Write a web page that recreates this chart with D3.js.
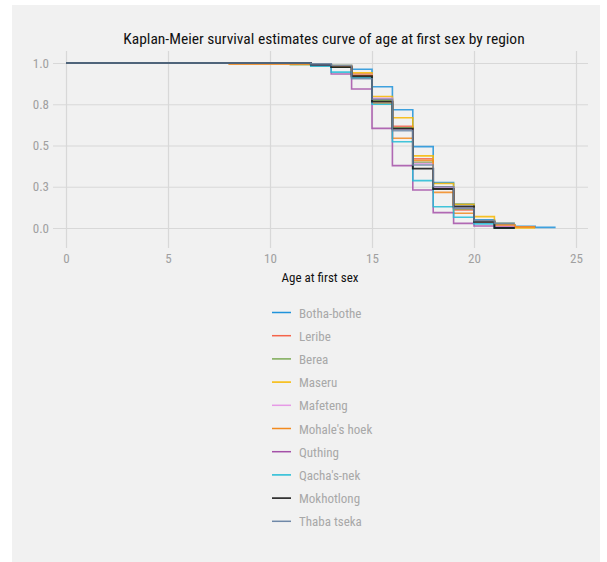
<!DOCTYPE html>
<html>
<head>
<meta charset="utf-8">
<script src="https://cdn.jsdelivr.net/npm/d3@7"></script>
<style>
  html, body { margin: 0; padding: 0; background: #ffffff; }
  svg { display: block; }
  text { font-family: "Liberation Sans Narrow", "Roboto Condensed", "Arial Narrow", "Liberation Sans", sans-serif; }
</style>
</head>
<body>
<svg id="chart" width="607" height="562"></svg>
<script>
// Kaplan-Meier survival estimates by region (step at each age)
const ages = [0, 8, 9, 10, 11, 12, 13, 14, 15, 16, 17, 18, 19, 20, 21, 22, 23, 24];

const regions = ["Botha-bothe", "Leribe", "Berea", "Maseru", "Mafeteng",
                 "Mohale's hoek", "Quthing", "Qacha's-nek", "Mokhotlong", "Thaba tseka"];

const colors = ["#1f93db", "#f5644a", "#7caa55", "#f7b900", "#e69ae6",
                "#f28a1e", "#a450a8", "#22bcd6", "#111111", "#6f88a8"];

// survival per age; null once the region has no further follow-up
const bothaBothe   = [1, 1, 1, 1, 1, 0.99, 0.985, 0.962, 0.856, 0.717, 0.493, 0.275, 0.145, 0.05, 0.02, 0.01, 0.004, 0.004];
const leribe       = [1, 1, 1, 1, 1, 0.99, 0.98, 0.935, 0.78, 0.616, 0.42, 0.25, 0.11, 0.04, 0.015, 0.005, 0.005, null];
const berea        = [1, 1, 1, 1, 0.99, 0.985, 0.975, 0.93, 0.772, 0.608, 0.398, 0.24, 0.115, 0.035, 0.028, 0.028, null, null];
const maseru       = [1, 1, 1, 1, 1, 0.99, 0.985, 0.94, 0.797, 0.668, 0.437, 0.27, 0.144, 0.069, 0.012, 0.0, 0.0, null];
const mafeteng     = [1, 1, 1, 1, 1, 0.99, 0.98, 0.93, 0.786, 0.6, 0.39, 0.245, 0.12, 0.03, 0.01, 0.01, null, null];
const mohalesHoek  = [1, 0.992, 0.992, 0.992, 0.992, 0.985, 0.98, 0.925, 0.756, 0.544, 0.41, 0.216, 0.089, 0.04, 0.02, 0.008, 0.008, null];
const quthing      = [1, 1, 1, 1, 1, 0.985, 0.933, 0.842, 0.604, 0.378, 0.23, 0.093, 0.028, 0.012, 0.005, 0.005, null, null];
const qachasNek    = [1, 1, 1, 1, 1, 0.98, 0.945, 0.91, 0.75, 0.523, 0.287, 0.129, 0.065, 0.025, 0.0, 0.0, null, null];
const mokhotlong   = [1, 1, 1, 1, 1, 0.99, 0.975, 0.92, 0.766, 0.602, 0.36, 0.236, 0.13, 0.038, 0.0, 0.0, null, null];
const thabaTseka   = [1, 1, 1, 1, 1, 0.995, 0.985, 0.905, 0.78, 0.59, 0.382, 0.25, 0.12, 0.045, 0.028, 0.028, null, null];

const survival = [bothaBothe, leribe, berea, maseru, mafeteng,
                  mohalesHoek, quthing, qachasNek, mokhotlong, thabaTseka];

const xTicks = [0, 5, 10, 15, 20, 25];
const yTicks = [0, 0.25, 0.5, 0.75, 1];

const svg = d3.select("#chart");

// panel background
svg.append("rect")
  .attr("x", 12).attr("y", 5)
  .attr("width", 588).attr("height", 557)
  .attr("fill", "#f1f1f1");

const x = d3.scaleLinear().domain([0, 25]).range([66, 576]);
const y = d3.scaleLinear().domain([0, 1]).range([228, 63]);

// horizontal grid + y ticks
const yAxis = d3.axisLeft(y).tickValues(yTicks).tickFormat(d3.format(".1f"))
  .tickSize(-(588 - 53)).tickPadding(4);
const gy = svg.append("g").attr("transform", "translate(53,0)").call(yAxis);
gy.select(".domain").remove();
gy.selectAll(".tick line").attr("stroke", "#d8d8d8").attr("stroke-width", 1.2);
gy.selectAll(".tick text").attr("fill", "#a0a0a0").attr("font-size", 13);

// vertical grid + x ticks
const xAxis = d3.axisBottom(x).tickValues(xTicks).tickFormat(d3.format("d"))
  .tickSize(-(248 - 51)).tickPadding(6);
const gx = svg.append("g").attr("transform", "translate(0,248)").call(xAxis);
gx.select(".domain").remove();
gx.selectAll(".tick line").attr("stroke", "#d8d8d8").attr("stroke-width", 1.2);
gx.selectAll(".tick text").attr("fill", "#a0a0a0").attr("font-size", 13);

// step curves
const line = d3.line()
  .defined(d => d[1] !== null)
  .x(d => x(d[0]))
  .y(d => y(d[1]))
  .curve(d3.curveStepAfter);

survival.forEach((vals, i) => {
  const pts = ages.map((a, j) => [a, vals[j]]);
  svg.append("path")
    .datum(pts)
    .attr("d", line)
    .attr("fill", "none")
    .attr("stroke", colors[i])
    .attr("stroke-width", i === 8 ? 1.9 : 1.6)
    .attr("stroke-opacity", 0.85);
});

// title
svg.append("text")
  .attr("x", 324).attr("y", 44)
  .attr("text-anchor", "middle")
  .attr("font-size", 15.5)
  .attr("fill", "#111")
  .text("Kaplan-Meier survival estimates curve of age at first sex by region");

// x axis label
svg.append("text")
  .attr("x", 320).attr("y", 282)
  .attr("text-anchor", "middle")
  .attr("font-size", 13)
  .attr("fill", "#111")
  .text("Age at first sex");

// legend
const legend = svg.append("g");
regions.forEach((r, i) => {
  const yy = 312.5 + i * 23.2;
  legend.append("line")
    .attr("x1", 272).attr("x2", 291)
    .attr("y1", yy).attr("y2", yy)
    .attr("stroke", colors[i]).attr("stroke-width", 1.5);
  legend.append("text")
    .attr("x", 299).attr("y", yy + 5)
    .attr("font-size", 13)
    .attr("fill", "#a8a8a8")
    .text(r);
});
</script>
</body>
</html>
